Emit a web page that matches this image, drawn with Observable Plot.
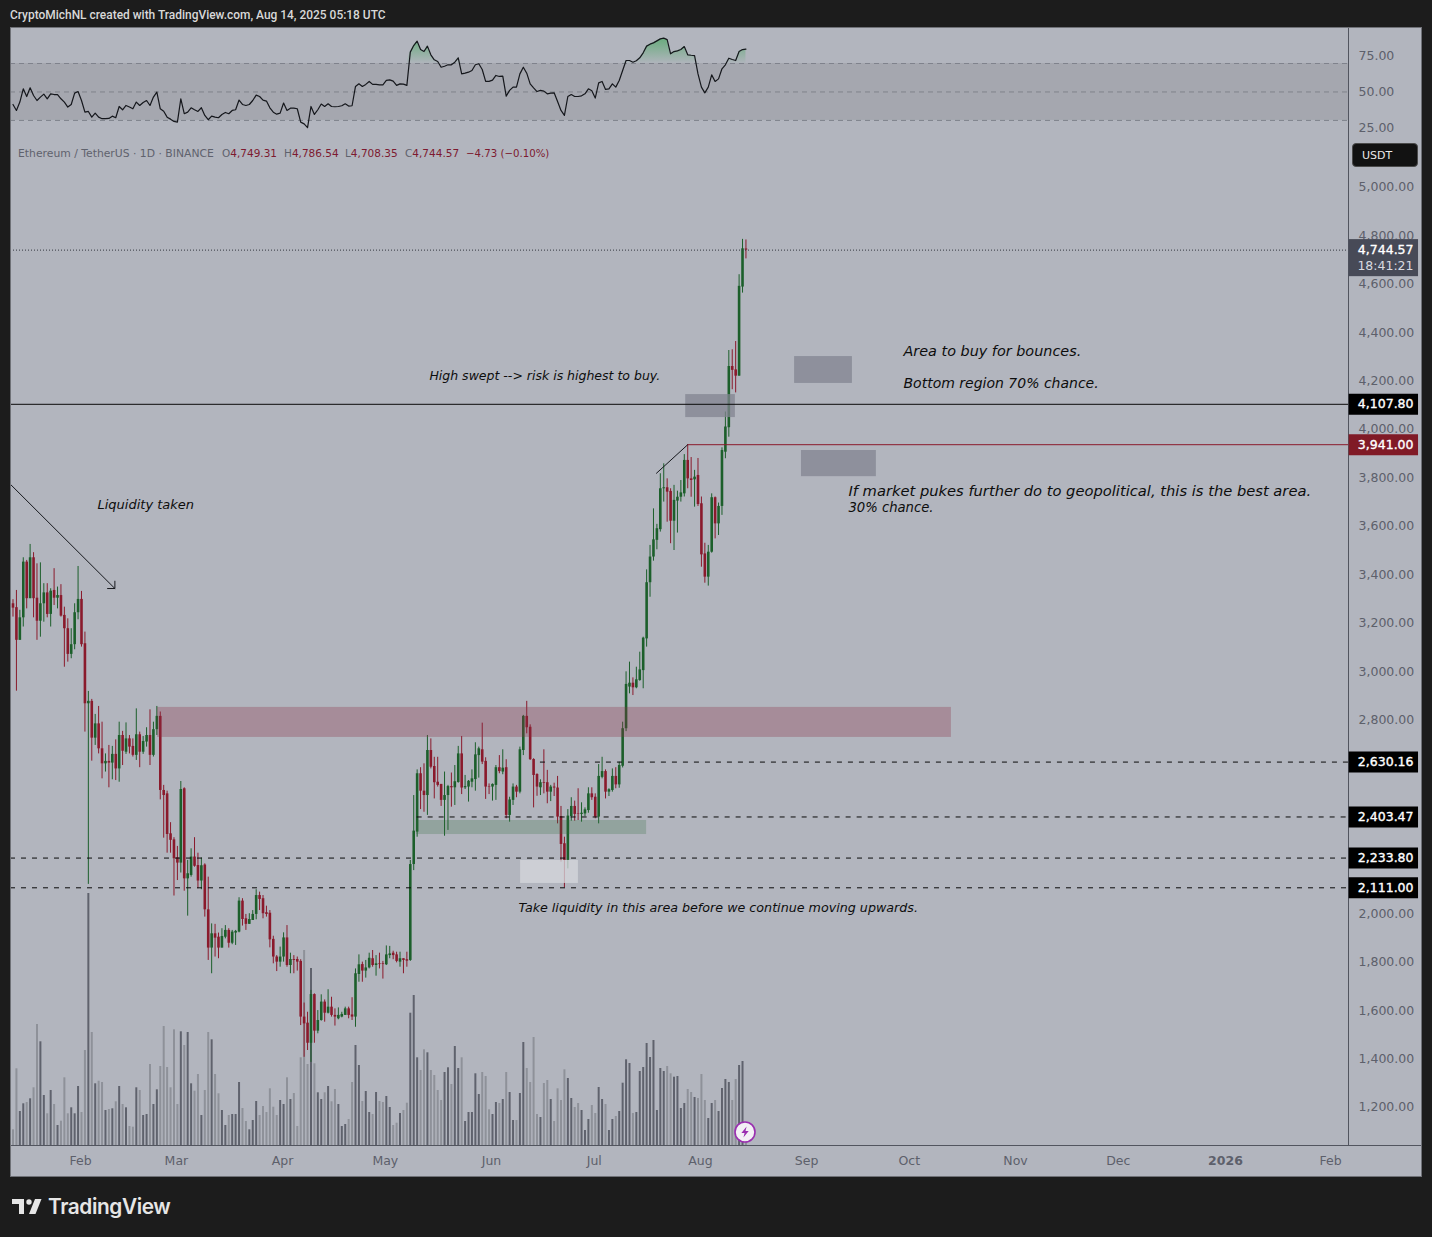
<!DOCTYPE html>
<html><head><meta charset="utf-8">
<script src="https://cdn.jsdelivr.net/npm/d3@7"></script>
<script src="https://cdn.jsdelivr.net/npm/@observablehq/plot@0.6"></script>
<style>
html,body{margin:0;padding:0;background:#1c1c1c;}
#page{position:relative;width:1432px;height:1237px;overflow:hidden;background:#1c1c1c;font-family:"DejaVu Sans",sans-serif;}
#page>div{position:absolute;}
.abs{position:absolute;white-space:nowrap;}
svg{display:block;}
</style></head><body><div id="page">
<div id="rsi" style="left:10px;top:27px"></div>
<div id="main" style="left:10px;top:137px"></div>
<div id="frame" style="left:10px;top:27px;width:1410px;height:1148px;border:1px solid #6f7177;pointer-events:none"></div>
</div>
<script>
const opens=[
3284,3268,3133,3226,3456,3305,3474,3307,3212,3284,
3329,3240,3339,3307,3318,3236,3181,3075,3115,3247,
3302,3119,2871,2881,2729,2788,2685,2623,2633,2626,
2662,2602,2740,2671,2726,2695,2658,2743,2671,2713,
2740,2658,2764,2819,2513,2499,2334,2309,2235,2213,
2520,2148,2162,2238,2203,2139,2205,2020,1862,1921,
1907,1862,1907,1935,1882,1924,1928,2056,1983,1960,
1976,2001,2079,2066,2008,2006,1898,1825,1804,1825,
1904,1790,1815,1815,1807,1577,1552,1469,1670,1519,
1563,1639,1593,1618,1584,1570,1577,1584,1611,1586,
1577,1753,1794,1767,1780,1818,1790,1797,1797,1793,
1831,1841,1834,1804,1818,1814,1811,2207,2341,2582,
2510,2492,2678,2612,2547,2538,2472,2492,2529,2524,
2546,2664,2524,2527,2547,2558,2657,2681,2633,2529,
2527,2534,2607,2589,2607,2410,2472,2527,2506,2678,
2819,2774,2641,2579,2524,2545,2545,2506,2527,2523,
2405,2293,2224,2405,2447,2416,2414,2416,2430,2499,
2485,2403,2567,2591,2506,2513,2571,2536,2613,2768,
2940,2956,2937,2967,3008,3139,3371,3477,3546,3590,
3759,3763,3748,3625,3708,3724,3738,3876,3800,3796,
3814,3697,3490,3394,3497,3722,3614,3686,3910,4011,
4264,4250,4224,4592,4749.31];
const closes=[
3266,3133,3226,3456,3305,3474,3305,3212,3284,3329,
3240,3336,3307,3318,3233,3181,3075,3115,3247,3302,
3115,2871,2881,2729,2788,2685,2623,2633,2626,2662,
2602,2740,2675,2726,2692,2658,2743,2671,2715,2740,
2658,2764,2819,2513,2492,2331,2307,2231,2213,2517,
2148,2169,2238,2200,2139,2202,2020,1862,1921,1903,
1862,1910,1935,1882,1928,1931,2056,1980,1960,1980,
2001,2079,2063,2004,2001,1896,1825,1804,1825,1904,
1790,1815,1811,1804,1577,1549,1469,1670,1519,1563,
1639,1593,1618,1584,1577,1584,1588,1611,1584,1577,
1756,1793,1767,1780,1820,1790,1797,1794,1794,1834,
1838,1831,1807,1818,1811,1808,2207,2345,2582,2510,
2492,2678,2609,2545,2534,2472,2492,2529,2524,2549,
2664,2523,2529,2551,2561,2660,2685,2630,2527,2527,
2538,2607,2591,2605,2410,2474,2527,2506,2681,2819,
2772,2640,2575,2527,2545,2542,2506,2527,2523,2403,
2290,2224,2407,2447,2414,2414,2419,2433,2499,2483,
2403,2571,2591,2506,2516,2571,2536,2616,2768,2951,
2956,2937,2970,3011,3142,3371,3477,3548,3594,3759,
3763,3745,3625,3711,3724,3742,3876,3800,3793,3807,
3694,3486,3394,3497,3722,3614,3686,3917,4014,4264,
4248,4224,4595,4750,4744.57];
const highs=[
3301,3339,3257,3474,3463,3529,3495,3449,3453,3367,
3367,3346,3429,3353,3363,3270,3222,3181,3284,3438,
3335,3167,2922,2889,2827,2860,2795,2664,2699,2695,
2722,2795,2757,2792,2740,2726,2850,2754,2736,2772,
2846,2795,2860,2837,2534,2510,2380,2318,2282,2550,
2524,2224,2272,2318,2254,2234,2210,2155,1962,1960,
1924,1942,1955,1942,1935,1935,2070,2066,2001,2004,
2017,2103,2093,2079,2035,2017,1911,1831,1866,1925,
1955,1841,1831,1825,1814,1635,1597,1687,1673,1604,
1669,1648,1690,1659,1611,1615,1597,1618,1618,1657,
1776,1834,1804,1811,1841,1852,1831,1841,1807,1871,
1869,1849,1845,1845,1818,1845,2224,2492,2598,2607,
2623,2740,2726,2650,2650,2538,2589,2534,2585,2616,
2695,2736,2575,2554,2598,2710,2692,2791,2648,2540,
2540,2616,2657,2681,2640,2485,2540,2534,2692,2823,
2881,2784,2644,2582,2557,2681,2596,2534,2543,2571,
2447,2320,2434,2483,2469,2520,2462,2441,2524,2524,
2499,2620,2650,2598,2520,2602,2607,2630,2795,3003,
3043,2978,3022,3084,3146,3424,3525,3676,3612,3821,
3862,3800,3759,3773,3749,3793,3900,3941,3888,3835,
3884,3725,3534,3525,3738,3725,3700,3928,4076,4330,
4333,4367,4643,4789,4786.54];
const lows=[
3229,2923,3133,3188,3263,3305,3226,3133,3146,3208,
3226,3188,3277,3263,3229,3022,3043,3057,3094,3218,
3105,2754,2125,2634,2699,2664,2561,2589,2524,2557,
2554,2547,2616,2662,2664,2651,2637,2607,2662,2692,
2616,2651,2740,2474,2316,2254,2254,2077,2141,2172,
2097,1994,2155,2196,2107,2103,1990,1811,1756,1825,
1818,1862,1900,1862,1876,1873,1925,1953,1935,1960,
1976,1979,2017,1983,1990,1863,1797,1765,1783,1804,
1783,1756,1756,1767,1542,1411,1439,1390,1469,1508,
1560,1556,1590,1577,1540,1566,1574,1584,1570,1563,
1535,1721,1721,1738,1776,1783,1746,1776,1734,1790,
1818,1814,1801,1783,1756,1783,1807,2182,2320,2434,
2423,2410,2602,2478,2527,2447,2324,2348,2444,2451,
2543,2496,2517,2465,2524,2510,2564,2620,2476,2496,
2469,2472,2582,2578,2396,2382,2451,2483,2499,2657,
2747,2637,2441,2489,2492,2499,2458,2467,2488,2375,
2217,2111,2189,2386,2386,2389,2382,2405,2419,2472,
2396,2375,2561,2478,2488,2506,2520,2522,2606,2756,
2912,2905,2933,2964,2933,3105,3311,3460,3507,3580,
3704,3621,3532,3504,3576,3704,3725,3759,3724,3683,
3686,3435,3369,3357,3493,3552,3566,3649,3883,3972,
4168,4155,4224,4567,4708.35];
// volume in thousands of ETH
const volumes=[
157,767,340,417,430,467,577,1210,1037,500,
317,550,410,200,243,677,317,377,317,590,
330,950,2520,1130,617,643,630,350,360,367,
437,590,410,377,190,183,577,550,300,310,
810,410,557,790,1190,780,577,1157,410,1137,
1000,1130,617,543,710,300,550,1130,1057,710,
517,350,200,300,310,310,630,370,240,157,
250,440,300,390,330,567,383,300,450,410,
677,460,520,190,877,1950,810,1770,817,527,
460,527,590,437,560,410,190,210,260,630,
1000,800,440,540,330,310,530,440,430,490,
380,200,223,320,350,423,1323,1500,877,750,
957,927,750,700,550,450,730,777,610,990,
770,877,240,330,330,717,510,730,690,357,
310,430,420,460,730,530,250,250,520,1030,
770,630,1080,310,280,620,650,460,240,567,
450,757,670,470,380,420,350,150,260,400,
320,580,460,410,150,260,290,340,623,857,
820,320,330,740,780,1020,880,1050,350,770,
740,790,717,683,690,370,420,560,530,480,
470,710,450,270,420,450,340,570,660,630,
450,660,800,840,40];
const rsiValues=[
41.2,37.0,42.9,52.2,46.8,52.9,47.5,44.0,46.4,48.5,
45.2,48.7,48.2,48.2,45.2,42.9,39.4,41.2,49.2,50.3,
44.0,35.8,36.3,32.3,35.1,32.3,31.2,31.2,31.4,33.0,
31.9,39.8,37.5,40.5,39.4,38.2,42.9,40.5,42.6,44.0,
40.5,46.4,49.9,38.2,36.5,32.3,30.9,29.3,28.8,45.2,
34.7,35.8,38.9,37.5,36.3,38.9,33.5,30.5,33.0,32.3,
31.9,34.2,35.6,34.7,37.0,37.5,44.3,41.2,40.5,41.2,
44.0,47.8,46.8,44.3,43.6,38.9,35.8,34.4,35.1,42.2,
37.0,38.6,38.6,38.2,28.8,27.6,24.9,39.8,34.2,37.5,
41.5,39.8,41.7,39.8,39.6,39.8,40.3,41.7,40.1,40.3,
53.9,55.7,53.9,55.3,57.4,55.3,55.3,55.0,55.0,58.1,
58.5,57.6,54.6,55.7,55.5,54.6,78.0,82.6,85.7,79.8,
78.4,82.2,76.1,72.6,71.4,67.4,68.1,69.1,69.1,70.9,
74.0,62.7,63.2,63.9,65.1,69.1,69.8,65.8,57.4,57.4,
58.3,61.6,60.9,61.1,47.1,51.1,53.4,53.4,62.7,67.4,
63.2,55.7,52.9,50.3,51.1,50.6,48.7,49.2,49.4,43.3,
37.0,33.5,46.8,48.2,46.8,46.8,47.3,48.7,52.2,50.8,
45.7,56.4,57.4,51.8,52.2,55.7,53.4,58.1,65.1,72.1,
72.1,70.9,71.9,74.0,77.5,82.2,83.6,84.5,85.9,87.3,
87.8,86.8,76.8,78.4,78.9,79.8,81.9,76.1,75.8,75.6,
62.7,53.4,49.4,53.4,62.0,57.4,59.2,66.3,69.1,73.7,
72.8,72.1,78.4,79.8,80.1];

const D=s=>new Date(s+"Z");
const dates=d3.utcDay.range(D("2025-01-12T00:00"),D("2025-08-15T00:00"));
const xStart=D("2025-01-11T06:29"), xEnd=D("2026-02-05T22:19"), tagStart=D("2026-02-06T03:00"), tagEnd=D("2026-02-26T09:00"), paneEnd=D("2026-02-27T09:00");
const yDomain=[1046.7,5209.7], rsiDomain=[18,95.3], volPerK=0.413;
const monthTicks=["2025-02-01","2025-03-01","2025-04-01","2025-05-01","2025-06-01","2025-07-01","2025-08-01","2025-09-01","2025-10-01","2025-11-01","2025-12-01","2026-02-01"].map(s=>D(s+"T00:00"));
const monthNames=["Feb","Mar","Apr","May","Jun","Jul","Aug","Sep","Oct","Nov","Dec","Feb"];
// 2,200, 2,400 and 2,600 sit behind the level tags in the reference
const priceTicks=[1200,1400,1600,1800,2000,2800,3000,3200,3400,3600,3800,4000,4200,4400,4600,4800,5000];
const rsiTicks=[25,50,75], rsiGuides=[70,50,30];

const candles=dates.map((date,i)=>({date,open:opens[i],close:closes[i],high:highs[i],low:lows[i],volume:volumes[i],rsi:rsiValues[i],up:closes[i]>=opens[i]}));

const zones=[
 {x1:"2025-02-23T05:00",x2:"2025-10-13T00:00",y1:2732,y2:2856,fill:"#8a2f45",op:.3},
 {x1:"2025-05-09T19:00",x2:"2025-07-16T00:00",y1:2331,y2:2389,fill:"#2e6b3a",op:.24},
 {x1:"2025-06-09T05:00",x2:"2025-06-26T02:00",y1:2129,y2:2224,fill:"#d6d8dc",op:.75},
 {x1:"2025-07-27T10:00",x2:"2025-08-10T22:00",y1:4053,y2:4148,fill:"#828490",op:.75},
 {x1:"2025-08-28T05:00",x2:"2025-09-14T02:00",y1:4194,y2:4305,fill:"#828490",op:.75},
 {x1:"2025-08-30T05:00",x2:"2025-09-21T02:00",y1:3809,y2:3917,fill:"#828490",op:.75}
];
const notes=[
 {x:"2025-02-05T16:00",y:3694,t:"Liquidity taken",s:13},
 {x:"2025-05-13T14:00",y:4223,t:"High swept --> risk is highest to buy.",s:12.5},
 {x:"2025-09-29T00:00",y:4326,t:"Area to buy for bounces.",s:14.4},
 {x:"2025-09-29T00:00",y:4194,t:"Bottom region 70% chance.",s:14},
 {x:"2025-09-12T22:00",y:3748,t:"If market pukes further do to geopolitical, this is the best area.",s:14.7},
 {x:"2025-09-12T22:00",y:3682,t:"30% chance.",s:13.2},
 {x:"2025-06-08T14:00",y:2026,t:"Take liquidity in this area before we continue moving upwards.",s:12.7}
];
const dashed=[
 {p:2630.16,from:"2025-06-15T00:00"},
 {p:2403.47,from:"2025-05-10T00:00"},
 {p:2233.8,from:"2025-01-11T06:29"},
 {p:2111,from:"2025-01-11T06:29"}
];
const tags=[
 {p:4107.8,fill:"#000000"},{p:3941,fill:"#801a26"},{p:2630.16,fill:"#000000"},
 {p:2403.47,fill:"#000000"},{p:2233.8,fill:"#000000"},{p:2111,fill:"#000000"}
];
const fmt=d3.format(",.2f");
const font="'DejaVu Sans',sans-serif";
const axisCol="#5d606b";
const green="#1c5f2b", red="#8a1a2c";

// RSI pane
const gradient=()=>{
  const defs=d3.create("svg:defs");
  const g=defs.append("linearGradient").attr("id","rsiFill").attr("x1",0).attr("x2",0).attr("y1",0).attr("y2",1);
  g.append("stop").attr("offset",0).attr("stop-color","#4fa866").attr("stop-opacity",.75);
  g.append("stop").attr("offset",1).attr("stop-color","#4fa866").attr("stop-opacity",.03);
  return defs.node();
};
document.getElementById("rsi").append(Plot.plot({
  width:1412,height:110,marginLeft:0,marginRight:74,marginTop:0,marginBottom:0,
  style:{background:"#b2b5be",fontFamily:font,overflow:"visible"},
  x:{type:"utc",domain:[xStart,xEnd],axis:null},
  y:{domain:rsiDomain,axis:null},
  marks:[
    gradient,
    Plot.rect([0],{x1:()=>xStart,x2:()=>xEnd,y1:()=>30,y2:()=>70,fill:"#a5a7af"}),
    Plot.ruleY(rsiGuides,{stroke:"#7f828c",strokeWidth:1,strokeDasharray:"5,4"}),
    Plot.areaY(candles,{x:"date",y1:()=>70,y2:d=>Math.max(d.rsi,70),fill:"url(#rsiFill)",curve:"linear"}),
    Plot.line(candles,{x:"date",y:"rsi",stroke:"#15171c",strokeWidth:1.2}),
    Plot.axisY({anchor:"right",ticks:rsiTicks,tickSize:0,tickPadding:10,fontSize:12.5,color:axisCol,label:null,tickFormat:d3.format(".2f")}),
    Plot.ruleX([xEnd],{stroke:"#52555f"})
  ]
}));

// Price pane
document.getElementById("main").append(Plot.plot({
  width:1412,height:1040,marginLeft:0,marginRight:74,marginTop:0,marginBottom:32,
  style:{background:"#b2b5be",fontFamily:font,overflow:"visible"},
  x:{type:"utc",domain:[xStart,xEnd],axis:null},
  y:{domain:yDomain,axis:null},
  marks:[
    Plot.axisY({anchor:"right",ticks:priceTicks,tickSize:0,tickPadding:10,fontSize:12.5,color:axisCol,label:null,tickFormat:fmt,dy:-1}),
    Plot.axisX({anchor:"bottom",ticks:monthTicks,tickSize:0,tickPadding:10.5,fontSize:12.5,color:axisCol,label:null,dx:-1,tickFormat:d=>monthNames[monthTicks.findIndex(t=>+t===+d)]}),
    Plot.text([D("2026-01-01T00:00")],{x:d=>d,y:()=>982,text:()=>"2026",fontSize:12.5,fontWeight:700,fill:axisCol}),
    // volume
    Plot.ruleX(candles,{x:"date",y1:()=>yDomain[0],y2:d=>yDomain[0]+d.volume*volPerK,stroke:d=>d.up?"#5f626d":"#8e9199",strokeWidth:2}),
    // wicks and bodies
    Plot.ruleX(candles,{x:"date",y1:"low",y2:"high",stroke:d=>d.up?green:red,strokeWidth:1}),
    Plot.ruleX(candles,{x:"date",y1:"open",y2:"close",stroke:d=>d.up?green:red,strokeWidth:2.6}),
    // zones
    Plot.rect(zones,{x1:d=>D(d.x1),x2:d=>D(d.x2),y1:"y1",y2:"y2",fill:"fill",fillOpacity:"op"}),
    // levels
    Plot.ruleY([4744.57],{x1:()=>xStart,x2:()=>xEnd,stroke:"#33363f",strokeWidth:1,strokeDasharray:"1,2"}),
    Plot.ruleY([4107.8],{x1:()=>xStart,x2:()=>xEnd,stroke:"#0b0b0b",strokeWidth:1}),
    Plot.ruleY([3941],{x1:()=>D("2025-07-28T00:00"),x2:()=>xEnd,stroke:"#8a1a2c",strokeWidth:1}),
    Plot.ruleY(dashed,{y:"p",x1:d=>D(d.from),x2:()=>xEnd,stroke:"#0b0b0b",strokeWidth:1,strokeDasharray:"5,6"}),
    // drawings
    Plot.link([0],{x1:()=>D("2025-07-18T19:00"),y1:()=>3822,x2:()=>D("2025-07-28T00:00"),y2:()=>3941,stroke:"#15171c",strokeWidth:1}),
    Plot.arrow([0],{x1:()=>xStart,y1:()=>3777,x2:()=>D("2025-02-10T18:00"),y2:()=>3347,stroke:"#15171c",strokeWidth:1,bend:0,headLength:11,headAngle:90}),
    Plot.text(notes,{x:d=>D(d.x),y:"y",text:"t",fontSize:"s",fontStyle:"italic",textAnchor:"start",fill:"#0d0d0d"}),
    // axes and tags
    Plot.ruleX([xEnd],{stroke:"#52555f"}),
    Plot.ruleY([yDomain[0]],{x1:()=>xStart,x2:()=>paneEnd,stroke:"#52555f"}),
    Plot.rect([0],{x1:()=>tagStart,x2:()=>tagEnd,y1:()=>4635,y2:()=>4788,fill:"#474a57"}),
    Plot.text([4744.57],{x:()=>tagEnd,y:d=>d,text:d=>fmt(d),dx:-5,textAnchor:"end",fill:"#ffffff",stroke:"#ffffff",strokeWidth:.35,fontSize:12.5}),
    Plot.text(["18:41:21"],{x:()=>tagEnd,y:()=>4744.57,text:d=>d,dx:-5,dy:16,textAnchor:"end",fill:"#d9dae0",fontSize:12.5}),
    Plot.ruleY(tags,{y:"p",x1:()=>tagStart,x2:()=>tagEnd,stroke:"fill",strokeWidth:21}),
    Plot.text(tags,{x:()=>tagEnd,y:"p",text:d=>fmt(d.p),dx:-5,textAnchor:"end",fill:"#ffffff",stroke:"#ffffff",strokeWidth:.35,fontSize:12.5})
  ]
}));

// HTML text
const page=document.getElementById("page");
const put=(html,css)=>{const e=document.createElement("span");e.className="abs";e.style.cssText=css;e.innerHTML=html;page.append(e);return e;};
put("CryptoMichNL created with TradingView.com, Aug 14, 2025 05:18 UTC","left:10px;top:8px;color:#d8d8d8;font:500 11.95px Roboto,sans-serif");
const legendCss="top:147px;line-height:13px;font-family:'DejaVu Sans',sans-serif;font-size:10.8px;";
put("Ethereum / TetherUS · 1D · BINANCE",legendCss+"left:18px;color:#5f626d");
[["O","4,749.31",222],["H","4,786.54",284],["L","4,708.35",345],["C","4,744.57",405]].forEach(([k,v,x])=>{
  put(`<span style="color:#5f626d">${k}</span>${v}`,legendCss+`left:${x}px;color:#7d1a30;font-size:10.5px`);
});
put("−4.73 (−0.10%)",legendCss+"left:466px;color:#7d1a30;font-size:10.2px");
put("USDT","left:1352px;top:143px;width:66px;height:24px;box-sizing:border-box;background:#121212;border:1px solid #4a4a4a;border-radius:4px;color:#e8e8e8;font:11px/24px 'DejaVu Sans',sans-serif;padding-left:9px");
put(`<svg width="24" height="24" viewBox="0 0 24 24"><circle cx="12" cy="12" r="10" fill="#f3f0f5" stroke="#9a2fb0" stroke-width="1.6"/><path d="M13.6 6.5 8.4 13h3.2l-1.2 4.6 5.3-6.5h-3.2z" fill="#9a2fb0"/></svg>`,"left:733px;top:1120px;line-height:0");
put(`<svg width="30" height="16" viewBox="0 0 30 16"><path d="M0 0h12v15H7V5H0z" fill="#e6e6e6"/><circle cx="17" cy="3" r="2.7" fill="#e6e6e6"/><path d="M23 0h6.5l-6 15h-6.5z" fill="#e6e6e6"/></svg>`,"left:12px;top:1199px;line-height:0");
put("TradingView","left:48px;top:1194px;color:#e6e6e6;font:600 20.8px Inter,sans-serif;letter-spacing:-.4px");
</script></body></html>
